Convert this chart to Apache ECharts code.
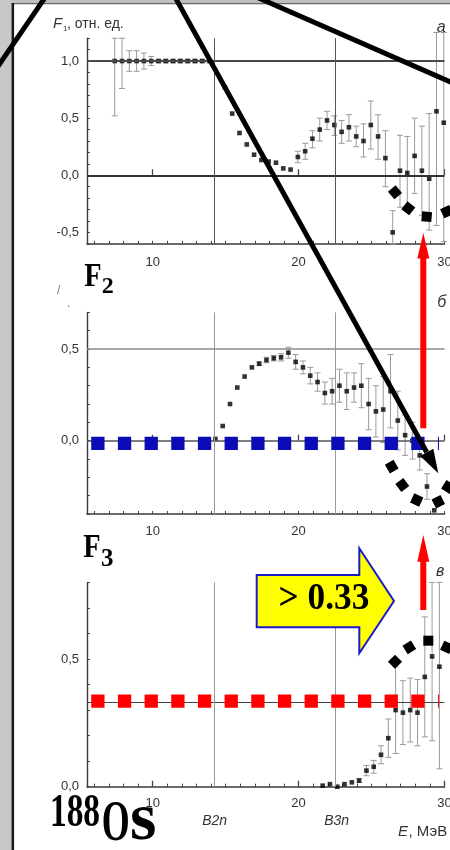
<!DOCTYPE html>
<html><head><meta charset="utf-8">
<script src="https://cdn.jsdelivr.net/npm/echarts@6/dist/echarts.min.js"></script>
<style>html,body{margin:0;padding:0;background:#fff}#c{width:450px;height:850px}</style>
</head><body><div id="c"></div>
<script>
// ---------- axis ranges / ticks ----------
const X_MIN = 5.5, X_MAX = 30;
const xTickLabels = [10, 20, 30];
const yLabels1 = [-0.5, 0, 0.5, 1.0];
const yLabels2 = [0, 0.5];
const yLabels3 = [0, 0.5];
const yRange1 = [-0.6, 1.2];
const yRange2 = [-0.4, 0.7];
const yRange3 = [0, 0.8];

// ---------- panel а : F1 ----------
const E1 = [7.4,7.9,8.4,8.9,9.4,9.9,10.4,10.9,11.4,11.9,12.4,12.9,13.4,13.9,
  14.95,15.45,15.95,16.45,16.95,17.45,17.95,18.45,18.95,19.45,19.95,20.45,20.95,21.45,21.95,
  22.45,22.95,23.45,23.95,24.45,24.95,25.45,25.95,26.45,26.95,27.45,27.95,28.45,28.95,29.45,29.95];
const F1 = [1,1,1,1,1,1,1,1,1,1,1,1,1,1,
  0.77,0.54,0.37,0.27,0.18,0.134,0.12,0.11,0.06,0.05,0.16,0.21,0.32,0.40,0.48,
  0.44,0.38,0.42,0.34,0.30,0.44,0.34,0.15,-0.50,0.04,0.02,0.17,0.04,-0.03,0.56,0.46];
const F1lo = [0.52,0.76,0.91,0.91,0.93,0.96,0.985,0.985,0.985,0.985,0.985,0.985,0.985,0.985,
  0.77,0.54,0.37,0.27,0.18,0.134,0.12,0.11,0.06,0.05,0.11,0.14,0.24,0.30,0.40,
  0.35,0.28,0.30,0.25,0.16,0.23,0.14,-0.10,-0.60,-0.28,-0.30,-0.16,-0.35,-0.48,-0.44,-0.58];
const F1hi = [1.2,1.2,1.09,1.09,1.07,1.04,1.015,1.015,1.015,1.015,1.015,1.015,1.015,1.015,
  0.77,0.54,0.37,0.27,0.18,0.134,0.12,0.11,0.06,0.05,0.21,0.28,0.39,0.50,0.56,
  0.52,0.48,0.53,0.43,0.45,0.65,0.53,0.39,-0.31,0.35,0.34,0.50,0.43,0.54,1.25,1.25];

// ---------- panel б : F2 ----------
const E2 = [14.3,14.8,15.3,15.8,16.3,16.8,17.3,17.8,18.3,18.8,19.3,19.8,20.3,20.8,21.3,21.8,
  22.3,22.8,23.3,23.8,24.3,24.8,25.3,25.8,26.3,26.8,27.3,27.8,28.3,28.8,29.3];
const F2 = [0.01,0.08,0.20,0.29,0.35,0.40,0.42,0.44,0.45,0.455,0.48,0.43,0.40,0.355,0.32,0.26,
  0.27,0.30,0.27,0.29,0.30,0.20,0.16,0.17,0.27,0.11,0.03,0.00,-0.08,-0.25,-0.38];
const F2err = [0,0,0,0,0,0,0.01,0.015,0.015,0.02,0.03,0.04,0.035,0.045,0.05,0.06,
  0.07,0.09,0.10,0.08,0.12,0.14,0.14,0.18,0.20,0.16,0.11,0.10,0.08,0.07,0];

// ---------- panel в : F3 ----------
const E3 = [21.65,22.15,22.65,23.15,23.65,24.15,24.65,25.15,25.65,26.15,26.65,27.15,27.65,28.15,28.65,29.15,29.65];
const F3 = [0.004,0.01,0.0,0.01,0.017,0.024,0.063,0.078,0.125,0.19,0.30,0.29,0.30,0.29,0.43,0.51,0.47];
const F3err = [0,0,0,0,0.005,0.008,0.02,0.025,0.035,0.075,0.17,0.125,0.125,0.13,0.235,0.33,0.40];

// ---------- reference lines & annotation levels ----------
const refH1 = [1.0, 0.0];
const refH2 = [0.5, 0.0];
const refH3 = [0.333];
const refV = [14.25, 22.52];      // B2n, B3n
const dashSpan = [5.79, 29.62];
const blueLevel = -0.015;         // F2 = 0 marker line
const redLevel = 0.335;           // F3 > 0.33 marker line

// ---------- helpers ----------
function range(a, b, s) { const r = []; for (let v = a; v <= b + 1e-9; v += s) r.push(Math.round(v * 10) / 10); return r; }
const xMinor = range(6, 30, 1);
const fmt = v => (+v).toFixed(1).replace('.', ',');
const FONT = '"Liberation Sans", Arial, sans-serif';
const SERIF = '"Liberation Serif", "Times New Roman", serif';

function errRender(params, api) {
  const x = api.value(0), lo = api.value(1), hi = api.value(2);
  const a = api.coord([x, lo]), b = api.coord([x, hi]);
  if (Math.abs(a[1] - b[1]) < 3) return { type: 'group', children: [] };
  const st = { stroke: '#9a9a9a', lineWidth: 1, fill: null };
  return { type: 'group', children: [
    { type: 'line', shape: { x1: a[0], y1: a[1], x2: b[0], y2: b[1] }, style: st },
    { type: 'line', shape: { x1: a[0] - 3, y1: a[1], x2: a[0] + 3, y2: a[1] }, style: st },
    { type: 'line', shape: { x1: b[0] - 3, y1: b[1], x2: b[0] + 3, y2: b[1] }, style: st }
  ]};
}

const grids = [
  { left: 87, top: 38.2, width: 357.5, height: 205.6 },
  { left: 87, top: 312.4, width: 357.5, height: 201.6 },
  { left: 87, top: 582.4, width: 357.5, height: 204.3 }
].map(g => Object.assign(g, { containLabel: false, outerBoundsMode: 'none' }));

const labelMargins = [12, 11, 10];
const xAxes = [], xMajor = [];
for (let i = 0; i < 3; i++) {
  xAxes.push({ gridIndex: i, type: 'value', min: X_MIN, max: X_MAX, position: 'bottom',
    axisLine: { show: true, onZero: false, lineStyle: { color: '#3a3a3a', width: 1.6 } },
    axisTick: { show: true, inside: true, length: 3, customValues: xMinor, lineStyle: { color: '#444' } },
    axisLabel: { show: true, customValues: xTickLabels, fontSize: 13, color: '#333', margin: labelMargins[i], fontFamily: FONT },
    splitLine: { show: false } });
  xMajor.push({ gridIndex: i, type: 'value', min: X_MIN, max: X_MAX, position: 'bottom',
    axisLine: { show: false },
    axisTick: { show: true, inside: true, length: 6, customValues: xTickLabels, lineStyle: { color: '#444', width: 1.3 } },
    axisLabel: { show: false }, splitLine: { show: false } });
}
const yR = [yRange1, yRange2, yRange3], yL = [yLabels1, yLabels2, yLabels3];
const yAxes = yR.map((r, i) => ({ gridIndex: i, type: 'value', min: r[0], max: r[1],
  axisLine: { show: true, onZero: false, lineStyle: { color: '#3a3a3a', width: 1.4 } },
  axisTick: { show: true, inside: true, length: 3, customValues: range(r[0], r[1], 0.1), lineStyle: { color: '#444' } },
  axisLabel: { show: true, customValues: yL[i], formatter: fmt, fontSize: 13, color: '#333', margin: 8, fontFamily: FONT },
  splitLine: { show: false } }));

function hLines(vals, styles) { return vals.map((v, k) => ({ yAxis: v, lineStyle: Object.assign({ type: 'solid' }, styles[k]) })); }
function vLines(style) { return refV.map(v => ({ xAxis: v, lineStyle: Object.assign({ type: 'solid' }, style) })); }

const panels = [
  { E: E1, F: F1, lo: F1lo, hi: F1hi,
    ml: hLines(refH1, [{ color: '#4a4a4a', width: 1.8 }, { color: '#333', width: 1.8 }]).concat(vLines({ color: '#555', width: 1 })) },
  { E: E2, F: F2, lo: F2.map((v, k) => v - F2err[k]), hi: F2.map((v, k) => v + F2err[k]),
    ml: hLines(refH2, [{ color: '#8a8a8a', width: 1.6 }, { color: '#555', width: 1.6 }]).concat(vLines({ color: '#999', width: 1 })) },
  { E: E3, F: F3, lo: F3.map((v, k) => Math.max(yRange3[0], v - F3err[k])), hi: F3.map((v, k) => Math.min(yRange3[1], v + F3err[k])),
    ml: hLines(refH3, [{ color: '#444', width: 1 }]).concat(vLines({ color: '#999', width: 1 })) }
];

const series = [];
panels.forEach((p, i) => {
  series.push({ type: 'custom', xAxisIndex: i, yAxisIndex: i, z: 2, clip: false, silent: true,
    renderItem: errRender, encode: { x: 0, y: [1, 2] },
    data: p.E.map((e, k) => [e, p.lo[k], p.hi[k]]),
    markLine: { silent: true, symbol: ['none', 'none'], label: { show: false }, animation: false,
      lineStyle: { type: 'solid' }, data: p.ml } });
  series.push({ type: 'scatter', xAxisIndex: i, yAxisIndex: i, z: 3, silent: true,
    symbol: 'rect', symbolSize: 4.6, itemStyle: { color: '#000' },
    data: p.E.map((e, k) => [e, p.F[k]]) });
});
function dashSeries(idx, level, color) {
  return { type: 'line', xAxisIndex: idx, yAxisIndex: idx, z: 5, silent: true, symbol: 'none',
    lineStyle: { color: color, width: 13.3, type: [13.3, 13.37], cap: 'butt' },
    data: [[dashSpan[0], level], [dashSpan[1], level]] };
}
series.push(dashSeries(1, blueLevel, '#0b0bb8'));
series.push(dashSeries(2, redLevel, '#ff0000'));

// ---------- overlay (slide annotations) ----------
function T(text, x, y, font, o) {
  o = o || {};
  return { type: 'text', x: x, y: y, z: 100, silent: true, scaleX: o.sx || 1, scaleY: 1,
    style: { text: text, font: font, fill: o.fill || '#000', align: o.align || 'left', textAlign: o.align || 'left',
      verticalAlign: 'middle', textVerticalAlign: 'middle' } };
}
function sq(cx, cy, deg, s) {
  return { type: 'rect', x: cx, y: cy, rotation: -deg * Math.PI / 180, z: 100, silent: true,
    shape: { x: -s / 2, y: -s / 2, width: s, height: s }, style: { fill: '#000' } };
}
function L(x1, y1, x2, y2, w) {
  return { type: 'line', z: 100, silent: true, shape: { x1, y1, x2, y2 }, style: { stroke: '#000', lineWidth: w, lineCap: 'butt' } };
}
function poly(pts, fill, stroke, lw) {
  return { type: 'polygon', z: 100, silent: true, shape: { points: pts }, style: { fill: fill, stroke: stroke || null, lineWidth: lw || 0 } };
}
function R(x, y, w, h, fill) {
  return { type: 'rect', z: 100, silent: true, shape: { x, y, width: w, height: h }, style: { fill: fill } };
}

const dashes = [
  [395, 192.3, 50], [408.3, 208.3, 38], [426.7, 216.7, 5], [446.7, 211.7, -25],
  [391.7, 466.7, 60], [402.3, 485, 53], [416.7, 500, 25], [438.3, 501.7, -27], [448, 487, -58],
  [395, 661.7, -45], [409.3, 647.3, -32], [428.3, 640.7, 0], [446.7, 647.3, 25]
];

const gfx = [
  // slide frame
  R(0, 0, 450, 3.2, '#bfbfbf'),
  R(11.5, 3, 438.5, 1.3, '#666'),
  R(0, 0, 11.5, 850, '#c8c8c8'),
  R(11.5, 3, 2.6, 847, '#1a1a1a'),
  // axis titles and panel letters
  T('F', 53, 24.1, 'italic 15px ' + FONT, { fill: '#333' }),
  T('1', 63, 29, '8px ' + FONT, { fill: '#333' }),
  T(', отн. ед.', 67, 24.4, '14px ' + FONT, { fill: '#333' }),
  T('/', 57, 291, '12px ' + FONT, { fill: '#777' }),
  T('.', 67, 304, '12px ' + FONT, { fill: '#777' }),
  T('а', 436.7, 27.8, 'italic 16px ' + FONT, { fill: '#333' }),
  T('б', 437.3, 302.8, 'italic 16px ' + FONT, { fill: '#333' }),
  T('в', 436, 571.2, 'italic 16px ' + FONT, { fill: '#333' }),
  T('B2n', 214.6, 821.2, 'italic 14px ' + FONT, { fill: '#333', align: 'center' }),
  T('B3n', 336.6, 821.2, 'italic 14px ' + FONT, { fill: '#333', align: 'center' }),
  T('E', 398, 831.5, 'italic 15px ' + FONT, { fill: '#333' }),
  T(', МэВ', 408.5, 831.5, '15px ' + FONT, { fill: '#333' }),
  // big labels
  T('F', 84.3, 277.2, 'bold 33px ' + SERIF, { sx: 0.86 }),
  T('2', 101.7, 286.9, 'bold 24px ' + SERIF),
  T('F', 83.3, 548.9, 'bold 33px ' + SERIF, { sx: 0.86 }),
  T('3', 101, 559.9, 'bold 25px ' + SERIF),
  T('188', 50, 814.1, 'bold 47px ' + SERIF, { sx: 0.71 }),
  T('O', 101.7, 824.8, 'bold 57px ' + SERIF, { sx: 0.63 }),
  T('s', 130, 821, 'bold 68px ' + SERIF),
  // yellow arrow
  poly([[256.7, 575], [359.3, 575], [359.3, 548.3], [394, 601], [359.3, 653.3], [359.3, 627.3], [256.7, 627.3]], '#ffff00', '#1a1acc', 2),
  T('> 0.33', 324, 598.9, 'bold 38px ' + SERIF, { sx: 0.93, align: 'center' }),
  // red arrows
  R(420.3, 257, 6, 171.3, '#ff0000'),
  poly([[417.3, 258.5], [429.3, 258.5], [423.3, 233]], '#ff0000'),
  R(420.3, 560, 6, 50, '#ff0000'),
  poly([[417.3, 561.7], [429.3, 561.7], [423.3, 535]], '#ff0000'),
  // black pointer lines
  L(45.4, -3, -2.5, 67, 5),
  L(175, -3, 426.7, 452.3, 5),
  poly([[438.3, 473.3], [433.3, 448.7], [420.1, 455.9]], '#000'),
  L(258, -2.3, 455, 84, 5)
].concat(dashes.map(d => sq(d[0], d[1], d[2], 10)));

const chart = echarts.init(document.getElementById('c'), null, { renderer: 'canvas' });
chart.setOption({
  animation: false,
  backgroundColor: '#fff',
  grid: grids,
  xAxis: xAxes.concat(xMajor),
  yAxis: yAxes,
  series: series,
  graphic: { elements: gfx }
});
</script>
</body></html>
